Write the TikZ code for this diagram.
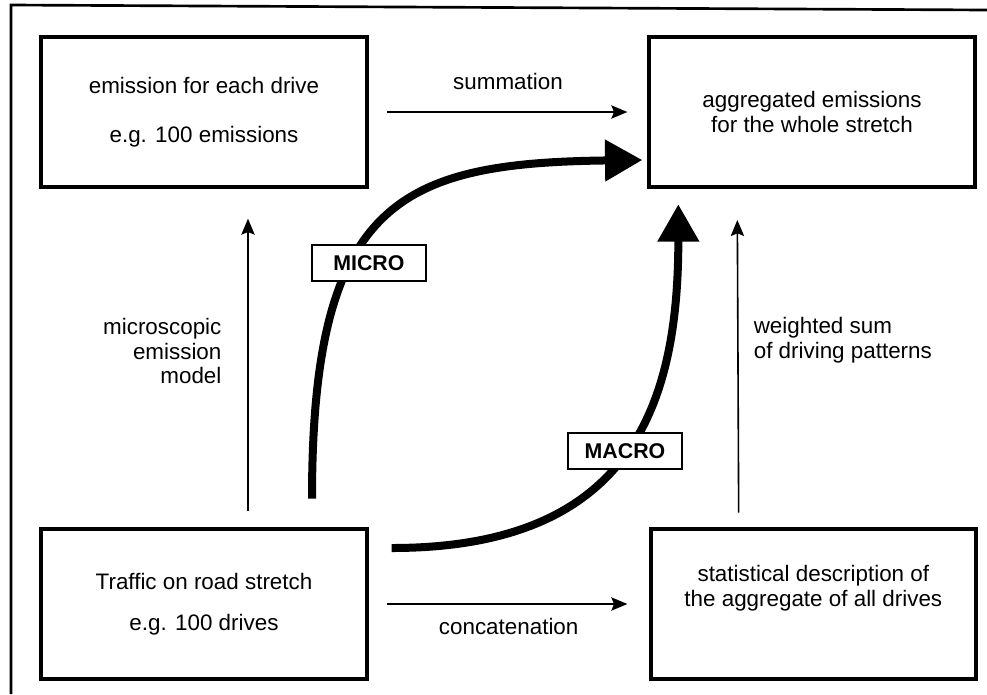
\documentclass[tikz,border=0pt]{standalone}
\usepackage{fontspec}
\setsansfont{Liberation Sans}
\usetikzlibrary{arrows.meta,positioning,calc}

\begin{document}
\begin{tikzpicture}[
      x=0.75pt, y=-0.75pt,
      >={Stealth[length=12pt,width=10pt,inset=2pt]},
      node distance=209pt,
      stage/.style={draw, line width=3pt, minimum width=244pt, minimum height=113pt, align=center, font=\fontsize{16.8}{18.5}\selectfont\sffamily},
      flow/.style={->, line width=1.2pt},
      route/.style={line width=6pt, -{Triangle[length=28pt,width=30pt]}},
      tag/.style={draw, fill=white, line width=1.6pt, minimum width=86pt, minimum height=27pt, font=\fontsize{16}{18}\selectfont\sffamily\bfseries},
      note/.style={font=\fontsize{16.8}{18.5}\selectfont\sffamily}
    ]
    \useasboundingbox (0,0) rectangle (987,694);
    \draw[line width=2pt] (987,10) -- (11,5) -- (11,694);

    \node[stage] (each) at (204,112) {emission for each drive\\[18pt]e.g. 100 emissions};
    \node[stage, right=of each] (total) {aggregated emissions\\for the whole stretch};
    \node[stage, below=253pt of each] (traffic) {Traffic on road stretch\\[12.5pt]e.g. 100 drives};
    \node[stage, right=210pt of traffic] (stats) {statistical description of\\the aggregate of all drives\\[9pt]\mbox{}};

    \draw[flow, shorten <=14pt, shorten >=15pt] (each) -- node[note, above=13pt] (sumlabel) {summation} (total);
    \draw[flow, shorten <=14pt, shorten >=16pt] (traffic.east) -- node[note, below=7pt] (catlabel) {concatenation} (traffic.east -| stats.west);
    \draw[flow] ([xshift=33pt, yshift=12pt]traffic.north) -- node[note, pos=0.546, left=16pt, align=right] (microlabel) {microscopic\\emission\\model} ([xshift=33pt, yshift=-22pt]each.south);
    \draw[flow] ([xshift=-56pt, yshift=10.5pt]stats.north) -- node[note, pos=0.59, right=8pt, align=left] (macrolabel) {weighted sum\\of driving patterns} ([xshift=-56pt, yshift=-23pt]total.south);

    \draw[route] ($(traffic.north)+(108,-28)$) .. controls +(0,-298) and +(-242,3) .. node[tag, pos=0.37, xshift=13pt] (micro) {MICRO} ($(total.west)+(-5,48)$);
    \draw[route] ($(traffic.east)+(23,-56)$) .. controls +(240,0) and +(0,200) .. node[tag, pos=0.5] (macro) {MACRO} ($(total.south west)+(31,15)$);
  \end{tikzpicture}
\end{document}
